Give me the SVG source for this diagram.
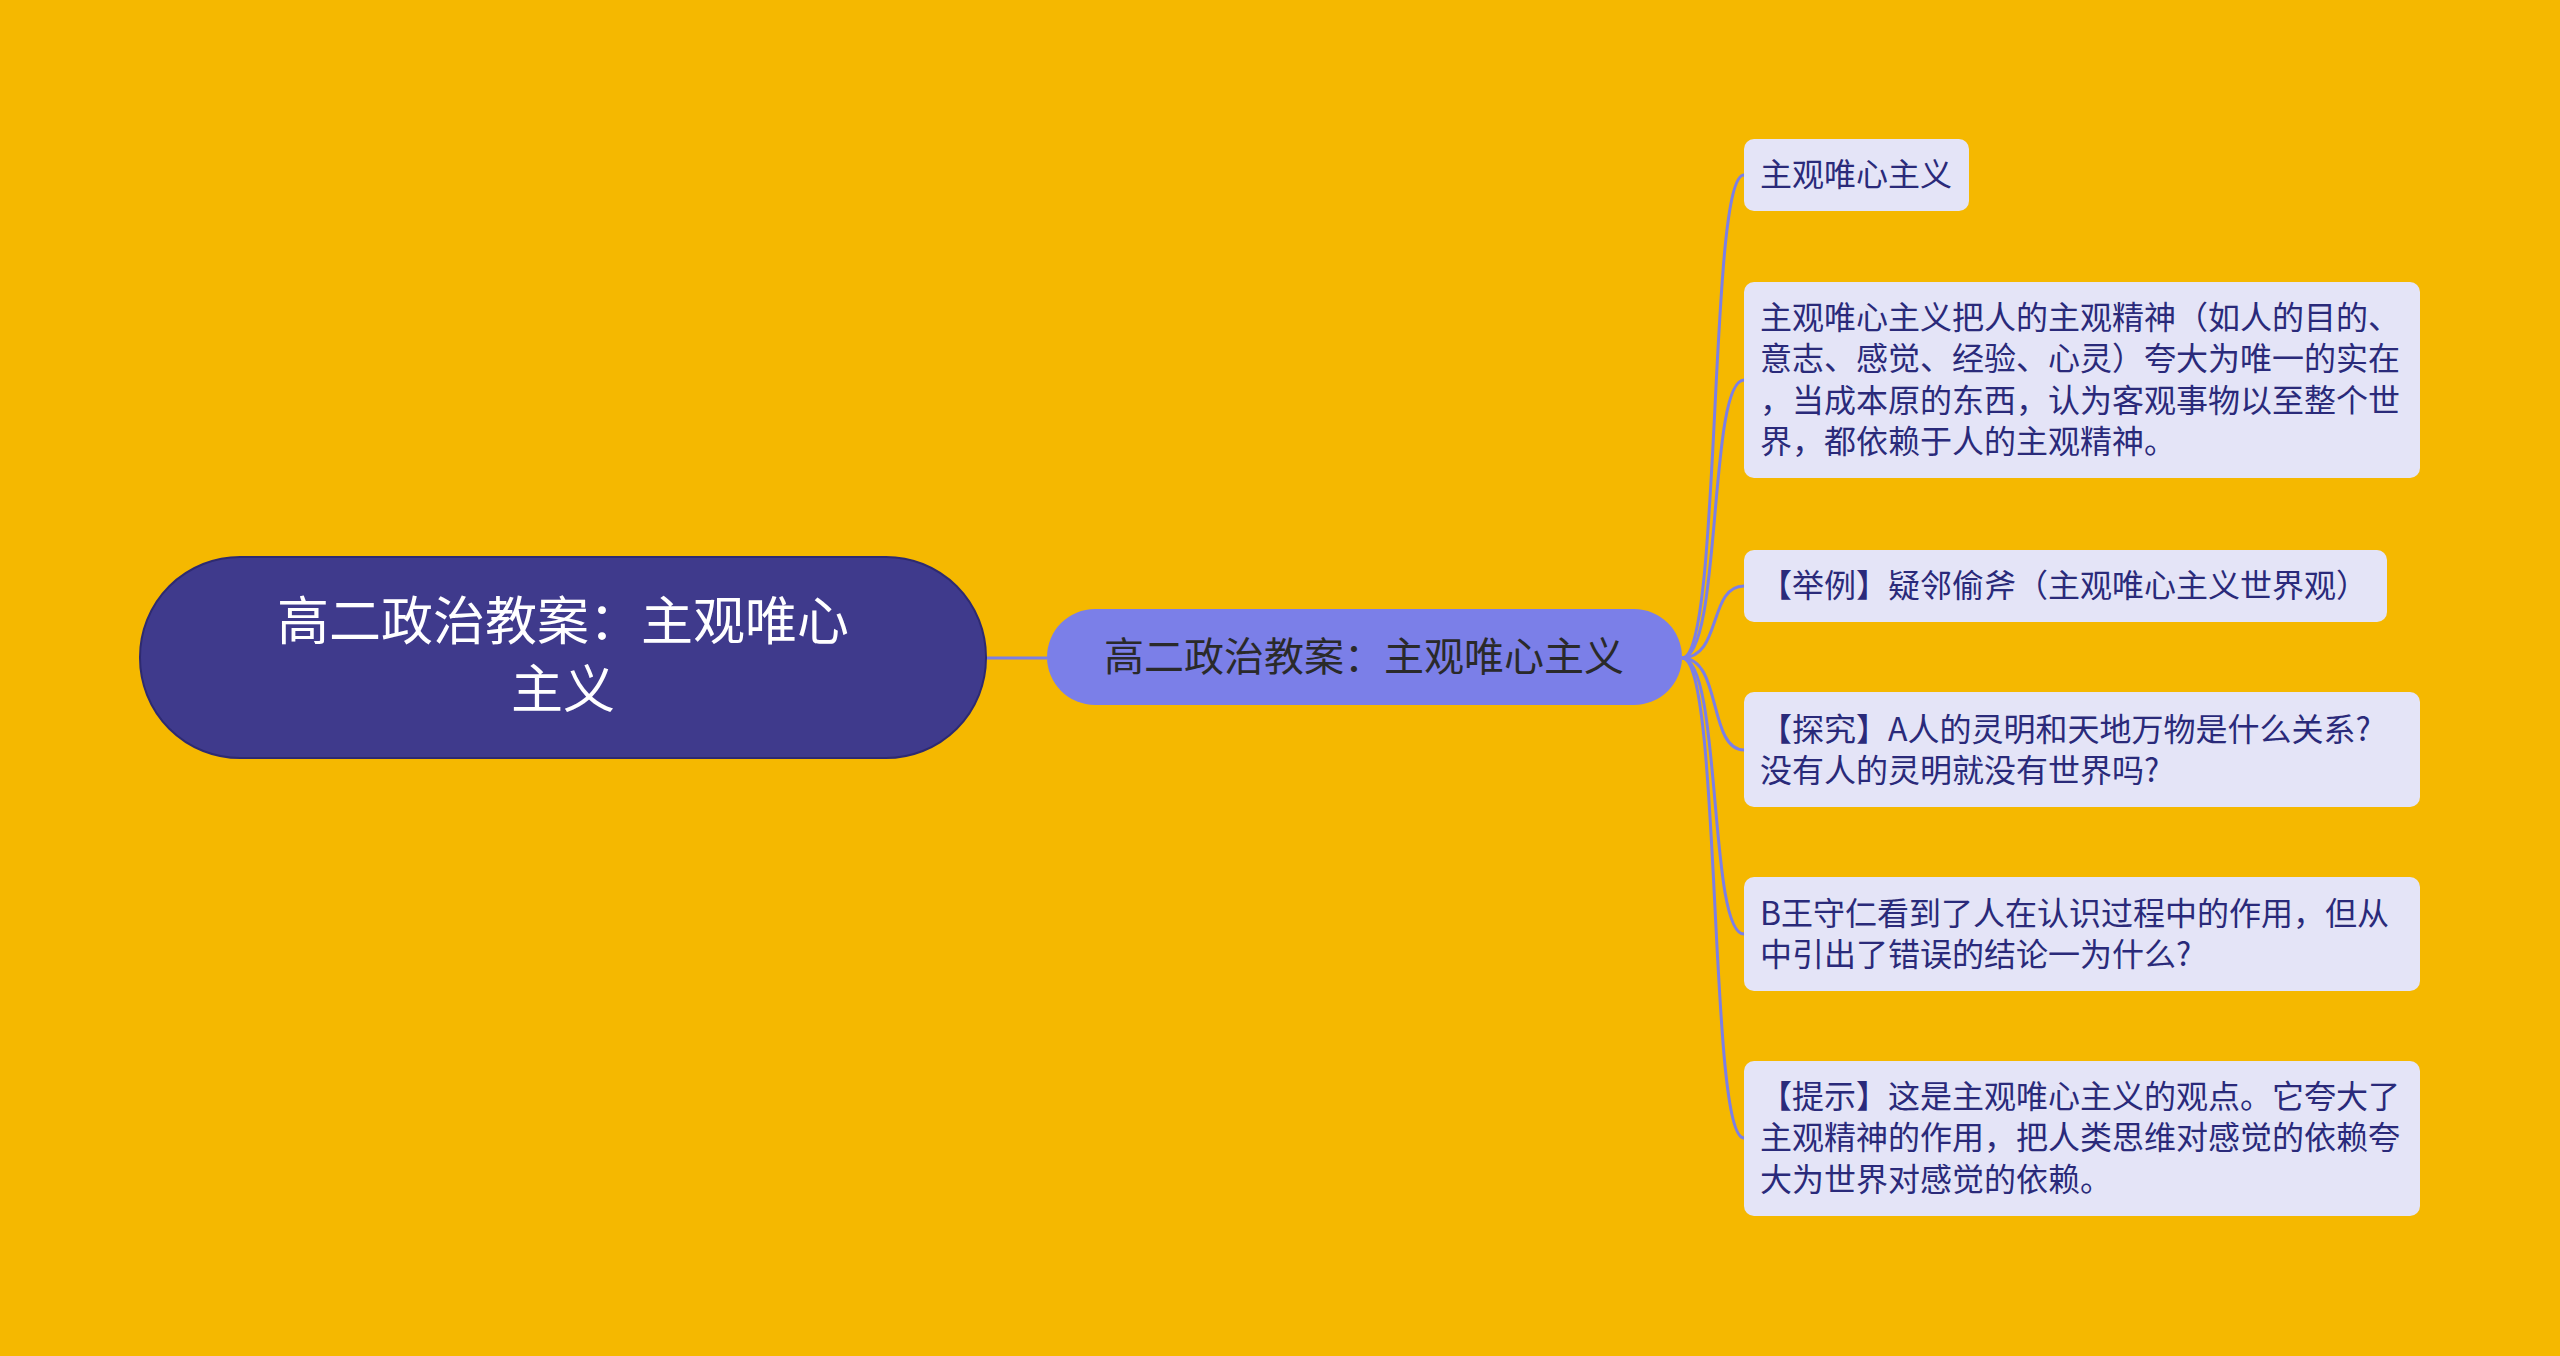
<svg xmlns="http://www.w3.org/2000/svg" width="2560" height="1356" viewBox="0 0 2560 1356">
<style>
text{font-family:"Noto Sans CJK SC","Noto Sans",sans-serif}
.leaf rect{fill:#e4e4f7}
.leaf text{font-size:32px;fill:#2a2a7a}
.c{fill:none;stroke:#7b7fe6;stroke-width:3}
</style>
<rect width="2560" height="1356" fill="#f5b800"/>
<g id="connectors">
<path class="c" d="M986 658H1047"/>
<path class="c" d="M1682 658C1722 658 1708 175 1744 175"/>
<path class="c" d="M1682 658C1722 658 1708 380 1744 380"/>
<path class="c" d="M1682 658C1722 658 1708 586 1744 586"/>
<path class="c" d="M1682 658C1722 658 1708 750 1744 750"/>
<path class="c" d="M1682 658C1722 658 1708 934 1744 934"/>
<path class="c" d="M1682 658C1722 658 1708 1138 1744 1138"/>
</g>
<g id="root"><rect x="140" y="557" width="846" height="201" rx="100" fill="#3f3a8c" stroke="#2e2a70" stroke-width="2"/>
<text x="563" y="640" font-size="52" fill="#fff" text-anchor="middle">高二政治教案：主观唯心</text>
<text x="563" y="708" font-size="52" fill="#fff" text-anchor="middle">主义</text></g>
<g id="mid"><rect x="1047" y="609" width="635" height="96" rx="48" fill="#7b7fe8"/>
<text x="1364" y="671" font-size="40" fill="#2a2a2a" text-anchor="middle">高二政治教案：主观唯心主义</text></g>
<g id="n1" class="leaf"><rect x="1744" y="139" width="225" height="72" rx="10"/><text x="1760" y="186">主观唯心主义</text></g>
<g id="n2" class="leaf"><rect x="1744" y="282" width="676" height="196" rx="10"/>
<text x="1760" y="329">主观唯心主义把人的主观精神（如人的目的、</text>
<text x="1760" y="370">意志、感觉、经验、心灵）夸大为唯一的实在</text>
<text x="1760" y="412">，当成本原的东西，认为客观事物以至整个世</text>
<text x="1760" y="453">界，都依赖于人的主观精神。</text></g>
<g id="n3" class="leaf"><rect x="1744" y="550" width="643" height="72" rx="10"/><text x="1760" y="597">【举例】疑邻偷斧（主观唯心主义世界观）</text></g>
<g id="n4" class="leaf"><rect x="1744" y="692" width="676" height="115" rx="10"/>
<text x="1760" y="741">【探究】A人的灵明和天地万物是什么关系?</text>
<text x="1760" y="782">没有人的灵明就没有世界吗?</text></g>
<g id="n5" class="leaf"><rect x="1744" y="877" width="676" height="114" rx="10"/>
<text x="1760" y="925">B王守仁看到了人在认识过程中的作用，但从</text>
<text x="1760" y="966">中引出了错误的结论一为什么?</text></g>
<g id="n6" class="leaf"><rect x="1744" y="1061" width="676" height="155" rx="10"/>
<text x="1760" y="1108">【提示】这是主观唯心主义的观点。它夸大了</text>
<text x="1760" y="1149">主观精神的作用，把人类思维对感觉的依赖夸</text>
<text x="1760" y="1191">大为世界对感觉的依赖。</text></g>
</svg>
